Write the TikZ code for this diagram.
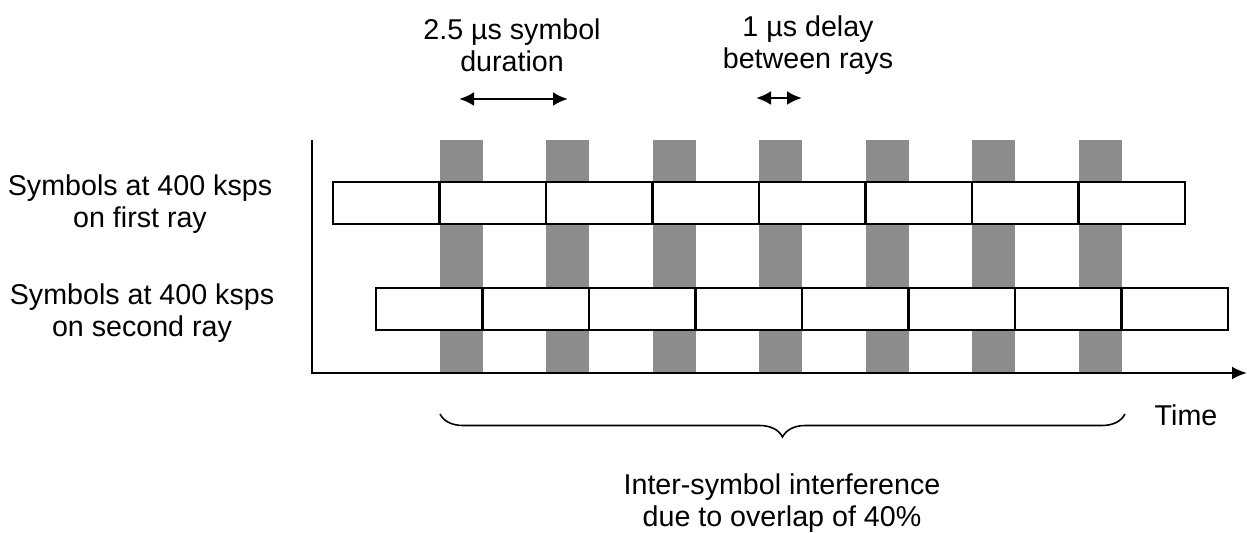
\documentclass[tikz,border=0pt]{standalone}
\usepackage{fontspec}
\setmainfont{Liberation Sans}
\usetikzlibrary{arrows.meta,decorations.pathreplacing}

\begin{document}
\begin{tikzpicture}[x=0.02cm,y=-0.02cm]
          \tikzstyle{sym} = [draw, line width=1.2pt, minimum width=2.13cm, minimum height=0.84cm, inner sep=0pt, outer sep=0pt, anchor=west]
          \tikzstyle{isi} = [fill=black!45]
          \tikzstyle{lbl} = [font=\fontsize{16.3}{18.4}\selectfont, align=center, inner sep=0pt]
          \tikzstyle{span} = [{Latex[length=0.3cm,width=0.28cm]}-{Latex[length=0.3cm,width=0.28cm]}, line width=1.6pt]
        \useasboundingbox (0,0) rectangle (1247,533);
        % overlap regions
        \foreach \i in {0,...,6}
          \fill[isi] ({439.5+106.5*\i},140) rectangle ++(43,233);
        % symbols on both rays
        \fill[white] (333,182) rectangle (1185,224);
        \fill[white] (376,288) rectangle (1228,330);
        \foreach \i in {0,...,7} {
          \node[sym] (a\i) at ({333+106.5*\i},203) {};
          \node[sym] (b\i) at ({376+106.5*\i},309) {};
        }
        \coordinate (ytop) at (312,140);
        \coordinate (xend) at (1247,373);
        \draw[line width=1.4pt, -{Latex[length=0.3cm,width=0.26cm]}] (ytop) |- (xend);
        \node[lbl] (ray1) at (140,204) {Symbols at 400 ksps\\on first ray};
        \node[lbl] (ray2) at (142,313) {Symbols at 400 ksps\\on second ray};
        \node[lbl] (dur) at (512,45) {2.5 µs symbol\\duration};
        \node[lbl] (dly) at (808,45) {1 µs delay\\between rays};
        \node[lbl] (time) at (1186,415) {Time};
        \node[lbl] (ovl) at (782,503) {Inter-symbol interference\\due to overlap of 40\%};
        \begin{scope}
          \coordinate (d1) at (459,99);
          \coordinate (d2) at (568,99);
          \coordinate (e1) at (756,98);
          \coordinate (e2) at (802,98);
          \draw[span] (d1) -- (d2);
          \draw[span] (e1) -- (e2);
          \coordinate (bl) at (440,414);
          \coordinate (br) at (1125,414);
          \draw[line width=0.9pt, decorate, decoration={brace, amplitude=0.46cm}] (br) -- (bl);
        \end{scope}
      \end{tikzpicture}
\end{document}
